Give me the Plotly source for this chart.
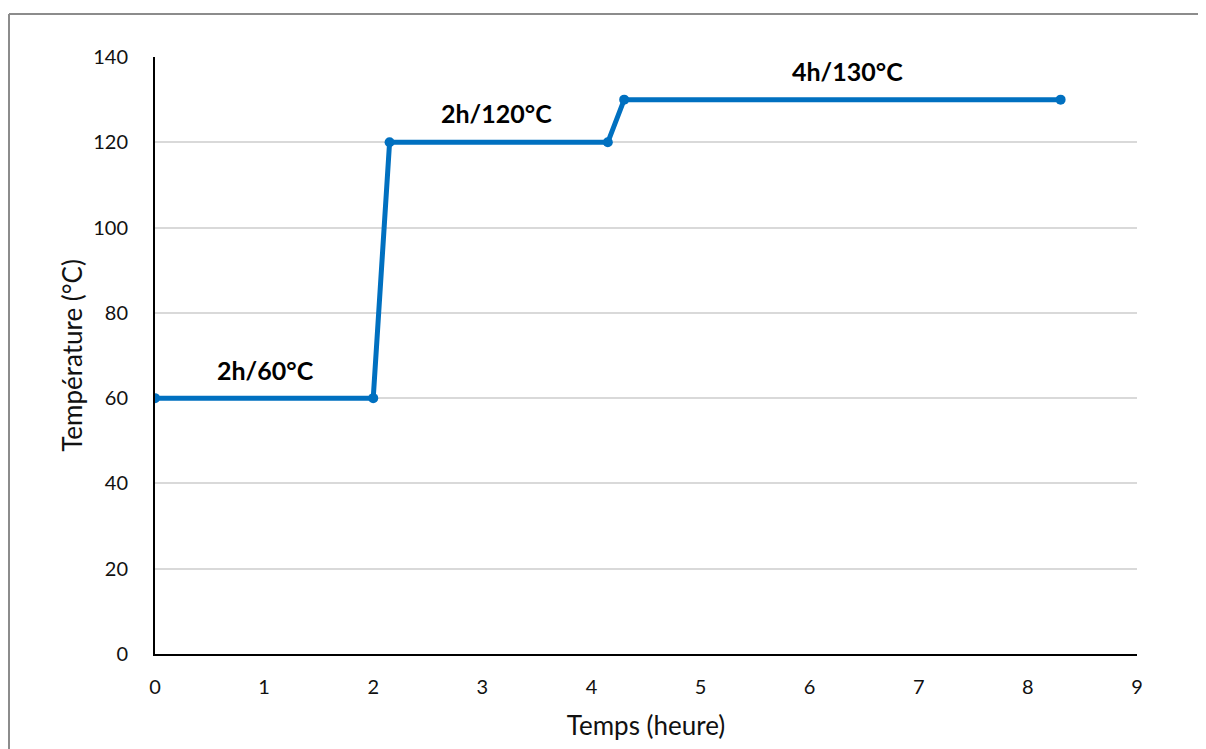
import plotly.graph_objects as go

temps_h = [0, 2, 2.15, 4.15, 4.3, 8.3]
temperature_c = [60, 60, 120, 120, 130, 130]
label_texts = ["2h/60°C", "2h/120°C", "4h/130°C"]
label_x = [1.01, 3.13, 6.35]
label_y = [66.6, 126.9, 136.7]
x_ticks = list(range(0, 10))
y_ticks = list(range(0, 141, 20))

FONT = "Lato, 'Noto Sans', sans-serif"

fig = go.Figure()
fig.add_trace(go.Scatter(
    x=temps_h, y=temperature_c, mode="lines+markers",
    line=dict(color="#0070C0", width=5),
    marker=dict(color="#0070C0", size=10),
    showlegend=False,
))
for t, xx, yy in zip(label_texts, label_x, label_y):
    fig.add_annotation(x=xx, y=yy, text="<b>" + t + "</b>", showarrow=False,
                       font=dict(size=25, color="black", family=FONT))

L, R, T, B = 147, 69, 49, 95
W, H = 1198, 741
pw, ph = W - L - R, H - T - B
def px2x(px):
    return (px - L) / pw
def py2y(py):
    return (H - B - py) / ph

border = dict(color="#8c8c8c", width=2)
fig.add_shape(type="line", xref="paper", yref="paper",
              x0=px2x(1), x1=px2x(1300), y0=py2y(6), y1=py2y(6), line=border, layer="below")
fig.add_shape(type="line", xref="paper", yref="paper",
              x0=px2x(1), x1=px2x(1), y0=py2y(6), y1=py2y(800), line=border, layer="below")

fig.update_layout(
    width=W, height=H,
    margin=dict(l=L, r=R, t=T, b=B),
    paper_bgcolor="white", plot_bgcolor="white",
    font=dict(family=FONT, size=20, color="#111"),
    xaxis=dict(range=[0, 9], tickvals=x_ticks, showgrid=False, zeroline=False,
               showline=True, linecolor="black", linewidth=2, ticks="",
               ticklabelstandoff=14,
               title=dict(text="Temps (heure)", font=dict(size=26), standoff=20)),
    yaxis=dict(range=[0, 140], tickvals=y_ticks, showgrid=True, gridcolor="#d9d9d9",
               gridwidth=1.5, zeroline=False, showline=True, linecolor="black",
               linewidth=2, ticks="", ticklabelstandoff=21,
               title=dict(text="Température (°C)", font=dict(size=26), standoff=3)),
)
fig.write_html("out.html")
